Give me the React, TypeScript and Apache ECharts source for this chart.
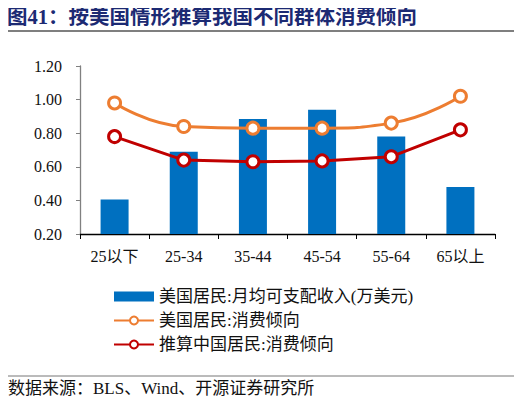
import { useEffect, useRef } from 'react';
import * as echarts from 'echarts';

const categories = ['25以下', '25-34', '35-44', '45-54', '55-64', '65以上'];
const incomeUS = [0.405, 0.69, 0.885, 0.94, 0.78, 0.48];
const propensityUS = [0.98, 0.84, 0.83, 0.83, 0.86, 1.02];
const propensityCN = [0.78, 0.64, 0.63, 0.635, 0.66, 0.82];
const seriesNames = ['美国居民:月均可支配收入(万美元)', '美国居民:消费倾向', '推算中国居民:消费倾向'];

const serif = '"Liberation Serif", "Noto Sans CJK SC", serif';

export default function App() {
  const chartRef = useRef<HTMLDivElement>(null);

  useEffect(() => {
    if (!chartRef.current) return;
    const myChart = echarts.init(chartRef.current, null, { renderer: 'svg' });

    const lineSeries = (name: string, data: number[], color: string, smooth: boolean) => ({
      name,
      type: 'line',
      data,
      smooth,
      symbol: 'circle',
      symbolSize: 12,
      lineStyle: { color, width: 3 },
      itemStyle: { color: '#fff', borderColor: color, borderWidth: 3 },
      z: 3
    });

    const option = {
      animation: false,
      title: {
        text: '图41：按美国情形推算我国不同群体消费倾向',
        left: 2,
        top: 2,
        textStyle: { fontSize: 20.5, fontWeight: 'bold', color: '#1c2a73', fontFamily: serif }
      },
      legend: {
        orient: 'vertical',
        left: 108,
        top: 283,
        itemWidth: 40,
        itemHeight: 10,
        itemGap: 7,
        textStyle: { fontSize: 17, color: '#111', fontFamily: serif },
        data: [
          { name: seriesNames[0], icon: 'rect', itemStyle: { color: '#0070c0' } },
          { name: seriesNames[1] },
          { name: seriesNames[2] }
        ]
      },
      grid: { left: 80, right: 27, top: 66, bottom: 171 },
      xAxis: {
        type: 'category',
        data: categories,
        axisLine: { lineStyle: { color: '#000', width: 1.3 } },
        axisTick: { show: true, length: 5, lineStyle: { color: '#000' } },
        axisLabel: { fontSize: 16, color: '#111', margin: 14, fontFamily: serif }
      },
      yAxis: {
        type: 'value',
        min: 0.2,
        max: 1.2,
        interval: 0.2,
        splitLine: { show: false },
        axisLine: { show: true, lineStyle: { color: '#808080', width: 1.3 } },
        axisTick: { show: true, inside: false, length: 4, lineStyle: { color: '#808080' } },
        axisLabel: {
          fontSize: 16,
          color: '#111',
          margin: 18,
          fontFamily: serif,
          formatter: (v: number) => v.toFixed(2)
        }
      },
      series: [
        {
          name: seriesNames[0],
          type: 'bar',
          data: incomeUS,
          barWidth: 28,
          itemStyle: { color: '#0070c0' },
          z: 2
        },
        lineSeries(seriesNames[1], propensityUS, '#ed7d31', true),
        lineSeries(seriesNames[2], propensityCN, '#c00000', false)
      ],
      graphic: [
        { type: 'line', shape: { x1: 6, y1: 31, x2: 516, y2: 31 }, style: { stroke: '#000', lineWidth: 1.2 } },
        { type: 'line', shape: { x1: 6, y1: 376, x2: 516, y2: 376 }, style: { stroke: '#777', lineWidth: 1 } },
        {
          type: 'text',
          left: 8,
          top: 380,
          style: { text: '数据来源：BLS、Wind、开源证券研究所', fontSize: 17, fill: '#111', fontFamily: serif }
        }
      ]
    };

    myChart.setOption(option);

    return () => {
      myChart.dispose();
    };
  }, []);

  return <div ref={chartRef} style={{ width: 522, height: 405, margin: -8 }} />;
}
